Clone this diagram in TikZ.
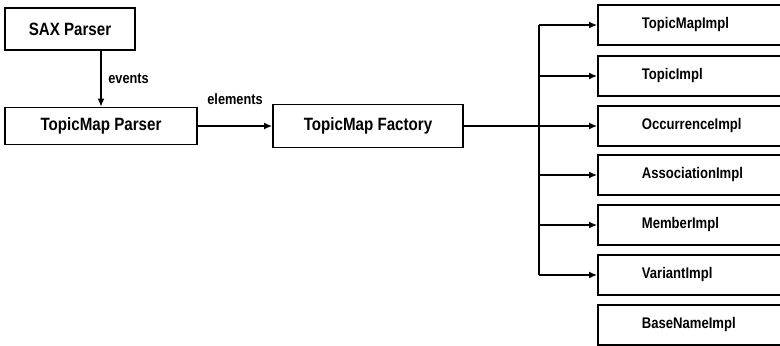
\documentclass[tikz,border=0pt]{standalone}
\usepackage{fontspec}
\setmainfont{Liberation Sans}[FakeStretch=0.85]
\usetikzlibrary{arrows.meta}

\begin{document}
\begin{tikzpicture}[x=0.5pt,y=-0.5pt,
  box/.style={draw,black,line width=0.9pt,inner sep=0pt,font=\fontsize{8.9}{10}\selectfont\bfseries},
  impl/.style={draw,black,line width=0.9pt,anchor=west,minimum height=20pt,text width=92pt,inner xsep=22pt,inner ysep=0pt,align=left,font=\fontsize{7.7}{9}\selectfont\bfseries},
  link/.style={black,line width=0.7pt,-{Latex[length=4pt,width=3.5pt]}},
  tag/.style={font=\fontsize{7.5}{9}\selectfont\bfseries}]
\useasboundingbox (0,0) rectangle (780,345);
\clip (0,0) rectangle (780,345);

\node[box,minimum width=65pt,minimum height=21pt] (sax) at (70,29) {SAX Parser};
\node[box,minimum width=96pt,minimum height=18.5pt] (parser) at (101,126) {TopicMap Parser};
\node[box,minimum width=95pt,minimum height=21.5pt] (factory) at (368,126) {TopicMap Factory};

\node[impl] (mapimpl) at (597,25) {TopicMapImpl};
\node[impl] (topimpl) at (597,76) {TopicImpl};
\node[impl] (occimpl) at (597,126) {OccurrenceImpl};
\node[impl] (assimpl) at (597,175) {AssociationImpl};
\node[impl] (memimpl) at (597,225) {MemberImpl};
\node[impl] (varimpl) at (597,275) {VariantImpl};
\node[impl] (bnimpl) at (597,325) {BaseNameImpl};

\coordinate (trunk) at (539,0);

\draw[link] (sax.south -| parser.north) -- (parser.north) node[tag,midway,right] {events};
\draw[link] (parser.east) -- (factory.west) node[tag,midway,above=7pt] {elements};

\draw[link] (factory.east) -- (occimpl.west);
\draw[black,line width=0.7pt] (trunk |- mapimpl.west) -- (trunk |- varimpl.west);
\draw[link] (trunk |- mapimpl.west) -- (mapimpl.west);
\draw[link] (trunk |- topimpl.west) -- (topimpl.west);
\draw[link] (trunk |- assimpl.west) -- (assimpl.west);
\draw[link] (trunk |- memimpl.west) -- (memimpl.west);
\draw[link] (trunk |- varimpl.west) -- (varimpl.west);

\end{tikzpicture}
\end{document}
